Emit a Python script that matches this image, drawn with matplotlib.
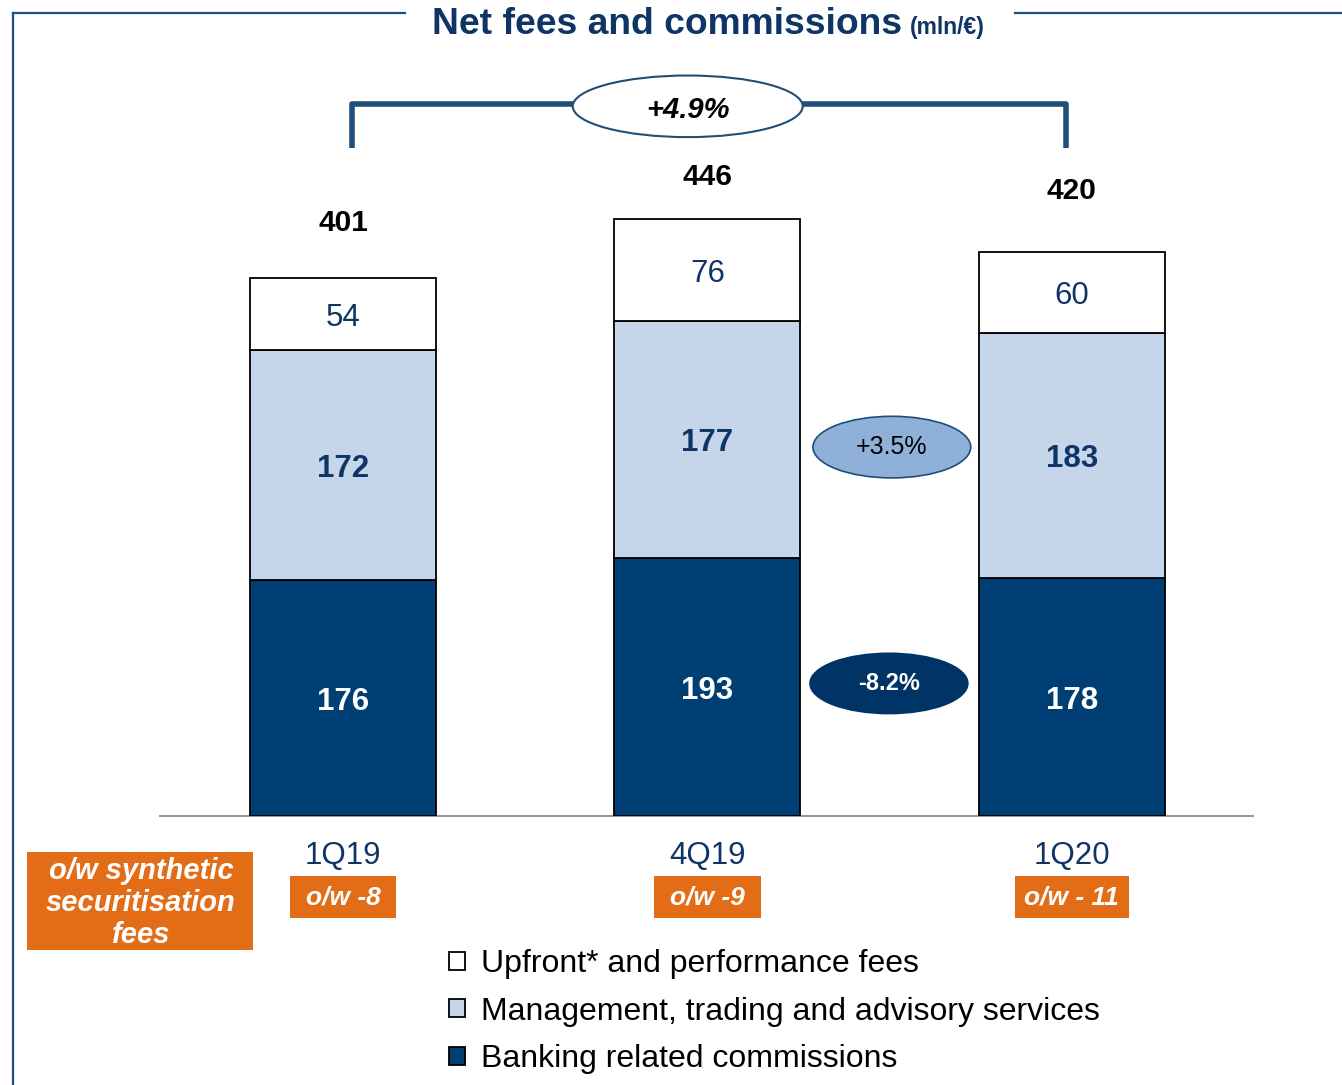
import matplotlib
matplotlib.use("Agg")
import matplotlib.pyplot as plt
from matplotlib.patches import Ellipse, Rectangle
from matplotlib.lines import Line2D
import numpy as np

plt.rcParams['font.family'] = ['Liberation Sans', 'DejaVu Sans']

# data (mln/€)
quarters = ['1Q19', '4Q19', '1Q20']
banking = [176, 193, 178]
management = [172, 177, 183]
upfront = [54, 76, 60]
totals = [401, 446, 420]
synthetic = ['o/w -8', 'o/w -9', 'o/w - 11']
total_change = '+4.9%'
mgmt_change = '+3.5%'
banking_change = '-8.2%'

NAVY = '#003F73'
LIGHT = '#C5D5EA'
BUBBLE = '#8FB0D8'
TITLE = '#0F3466'
ORANGE = '#E36C16'
FRAME = '#1F4E79'

W, H = 1342, 1085


def fx(x):
    return x / W


def fy(y):
    return 1 - y / H


fig = plt.figure(figsize=(W / 100, H / 100), dpi=100)
ax = fig.add_axes([160 / W, 269 / H, 1093 / W, 816 / H])
ax.set_xlim(-0.502, 2.497)
ax.set_ylim(0, 609.4)
ax.axis('off')

x = np.arange(len(quarters))
bw = 0.51
b1 = ax.bar(x, banking, bw, color=NAVY, edgecolor='black', linewidth=1.3)
b2 = ax.bar(x, management, bw, bottom=banking, color=LIGHT, edgecolor='black', linewidth=1.3)
bot3 = np.array(banking) + np.array(management)
b3 = ax.bar(x, upfront, bw, bottom=bot3, color='white', edgecolor='black', linewidth=1.3)

ax.axhline(0, color='#999999', lw=1.5, clip_on=False, zorder=0)

# gap between bar top and total label differs a bit per bar in the original
total_gap = [42, 31, 47]
box_w = [0.29, 0.294, 0.313]
for i in range(len(quarters)):
    ax.text(x[i], banking[i] / 2 - 3, str(banking[i]), ha='center', va='center',
            fontsize=22.5, fontweight='bold', color='white')
    ax.text(x[i], banking[i] + management[i] / 2 - 3, str(management[i]), ha='center', va='center',
            fontsize=22.5, fontweight='bold', color=TITLE)
    ax.text(x[i], bot3[i] + upfront[i] / 2 - 3, str(upfront[i]), ha='center', va='center',
            fontsize=22.5, color=TITLE)
    ax.text(x[i], totals[i] + total_gap[i], str(totals[i]), ha='center', va='center',
            fontsize=21.5, fontweight='bold', color='black')
    # quarter labels and synthetic securitisation boxes
    ax.text(x[i], -30, quarters[i], ha='center', va='center', fontsize=22.5, color=TITLE)
    ax.add_patch(Rectangle((x[i] - box_w[i] / 2, -76.5), box_w[i], 31.5, fc=ORANGE, ec='none',
                           clip_on=False))
    ax.text(x[i], -60.5, synthetic[i], ha='center', va='center', fontsize=19,
            fontweight='bold', style='italic', color='white')

# bracket with total growth
by, bend = 532, 499
ax.plot([0.025, 0.025, 1.983, 1.983], [bend, by, by, bend], color=FRAME, lw=4,
        solid_joinstyle='round', solid_capstyle='butt', clip_on=False)
ax.add_patch(Ellipse((0.946, 530), 0.631, 46, fc='white', ec=FRAME, lw=1.5, clip_on=False, zorder=5))
ax.text(0.946, 527.5, total_change, ha='center', va='center', fontsize=21,
        fontweight='bold', style='italic', color='black', zorder=6)

# growth bubbles between 4Q19 and 1Q20
ax.add_patch(Ellipse((1.506, 275.5), 0.433, 46, fc=BUBBLE, ec=FRAME, lw=1.2, zorder=5))
ax.text(1.506, 275.5, mgmt_change, ha='center', va='center', fontsize=18, color='black', zorder=6)
ax.add_patch(Ellipse((1.498, 99), 0.433, 45, fc='#003366', ec='#003366', lw=1.2, zorder=5))
ax.text(1.498, 99, banking_change, ha='center', va='center', fontsize=17,
        fontweight='bold', color='white', zorder=6)

# left orange box
fig.patches.append(Rectangle((fx(27), fy(950)), (253 - 27) / W, (950 - 852) / H,
                             transform=fig.transFigure, fc=ORANGE, ec='none'))
fig.text(fx(141), fy(903), 'o/w synthetic\nsecuritisation\nfees', ha='center', va='center',
         fontsize=21, fontweight='bold', style='italic', color='white', linespacing=1.17)

# frame and title
for xs, ys in [([13, 405], [13, 13]), ([1015, W], [13, 13]), ([13, 13], [13, H])]:
    fig.add_artist(Line2D([fx(v) for v in xs], [fy(v) for v in ys], color=FRAME, lw=1.6))
fig.text(fx(432), fy(34), 'Net fees and commissions', ha='left', va='baseline',
         fontsize=26.8, fontweight='bold', color=TITLE)
fig.text(fx(910), fy(34), '(mln/€)', ha='left', va='baseline',
         fontsize=16.5, fontweight='bold', color=TITLE)

# legend
fig.legend([b3, b2, b1],
           ['Upfront* and performance fees', 'Management, trading and advisory services',
            'Banking related commissions'],
           loc='upper left', bbox_to_anchor=(fx(449), fy(949)), frameon=False,
           fontsize=23, handlelength=0.5, handleheight=0.5, handletextpad=0.5,
           labelspacing=0.55, borderaxespad=0, borderpad=0)

fig.savefig('out.png', dpi=100)
